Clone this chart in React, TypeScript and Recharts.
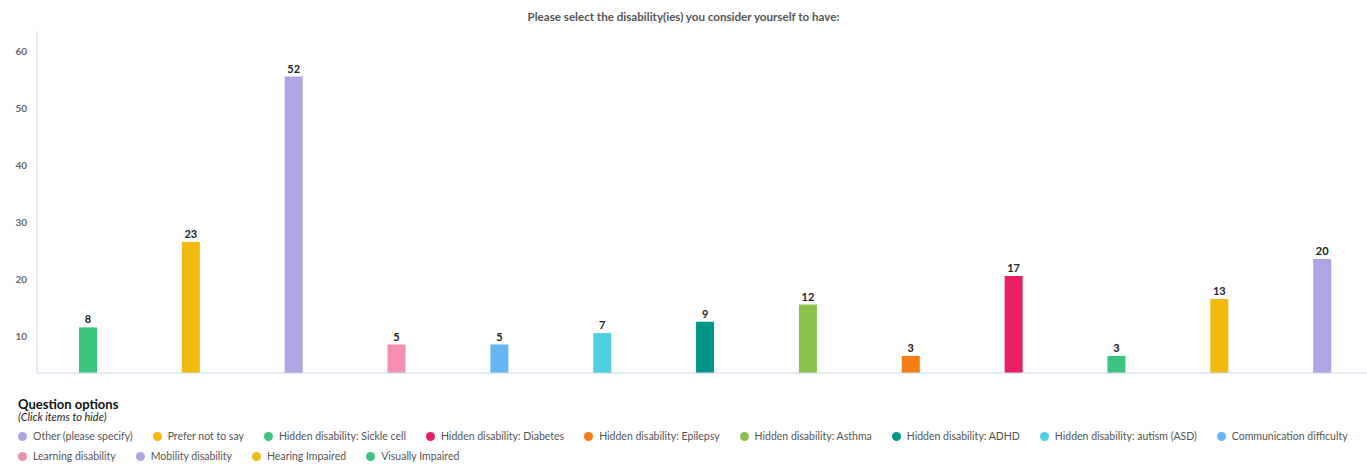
import { BarChart, Bar, XAxis, YAxis, Cell, LabelList } from "recharts";

const categories = [
  "Visually Impaired",
  "Hearing Impaired",
  "Mobility disability",
  "Learning disability",
  "Communication difficulty",
  "Hidden disability: autism (ASD)",
  "Hidden disability: ADHD",
  "Hidden disability: Asthma",
  "Hidden disability: Epilepsy",
  "Hidden disability: Diabetes",
  "Hidden disability: Sickle cell",
  "Prefer not to say",
  "Other (please specify)",
];
const counts = [8, 23, 52, 5, 5, 7, 9, 12, 3, 17, 3, 13, 20];
const colors = [
  "#3dc47e", "#f2b90f", "#ada5e6", "#f48fb1", "#64b5f6", "#4dd0e1", "#009688",
  "#8bc34a", "#f57c17", "#e91e63", "#3dc47e", "#f2b90f", "#ada5e6",
];
const yTicks = [10, 20, 30, 40, 50, 60];

const data = categories.map((name, i) => ({ name, value: counts[i], color: colors[i] }));
// legend runs in the opposite order from the bars
const legend = [...data].reverse();

const axisColor = "#c8d7eb";
const font = "Lato, 'Noto Sans', sans-serif";

function YTick(props: any) {
  const { x, y, payload } = props;
  return (
    <text x={x - 2} y={y + 24} textAnchor="end" fontSize={10} fontWeight={700} fill="#666" fontFamily={font}>
      {payload.value}
    </text>
  );
}

export default function App() {
  return (
    <div style={{ position: "absolute", left: 0, top: 0, width: 1367, height: 464, overflow: "hidden", background: "#fff", fontFamily: font }}>
      <div style={{ position: "absolute", top: 10, left: 0, width: 1367, textAlign: "center", fontSize: 11.6, fontWeight: 700, color: "#555" }}>
        Please select the disability(ies) you consider yourself to have:
      </div>
      <div style={{ position: "absolute", top: 0, left: 0 }}>
        <BarChart width={1376} height={374} data={data} margin={{ top: 31, right: 2, left: 0, bottom: 0 }}>
          <XAxis dataKey="name" tick={false} tickLine={false} height={1} axisLine={{ stroke: axisColor }} />
          <YAxis domain={[0, 60]} ticks={yTicks} width={37} tickLine={false} axisLine={{ stroke: axisColor }} tick={<YTick />} />
          <Bar dataKey="value" barSize={18} isAnimationActive={false}>
            {data.map((d) => (
              <Cell key={d.name} fill={d.color} />
            ))}
            <LabelList dataKey="value" position="top" offset={4} fontSize={11} fontWeight={700} fill="#222" fontFamily={font} />
          </Bar>
        </BarChart>
      </div>
      <div style={{ position: "absolute", left: 18, top: 396, fontSize: 13, fontWeight: 700, color: "#111" }}>Question options</div>
      <div style={{ position: "absolute", left: 18, top: 410, fontSize: 11, fontStyle: "italic", color: "#222" }}>(Click items to hide)</div>
      <div
        style={{
          position: "absolute",
          left: 18,
          top: 428,
          width: 1349,
          display: "flex",
          flexWrap: "wrap",
          columnGap: 20,
          rowGap: 4,
          fontSize: 10.5,
          color: "#555",
        }}
      >
        {legend.map((d) => (
          <div key={d.name} style={{ display: "flex", alignItems: "center", height: 16, cursor: "pointer" }}>
            <span style={{ width: 9, height: 9, borderRadius: "50%", background: d.color, marginRight: 6 }} />
            {d.name}
          </div>
        ))}
      </div>
    </div>
  );
}
